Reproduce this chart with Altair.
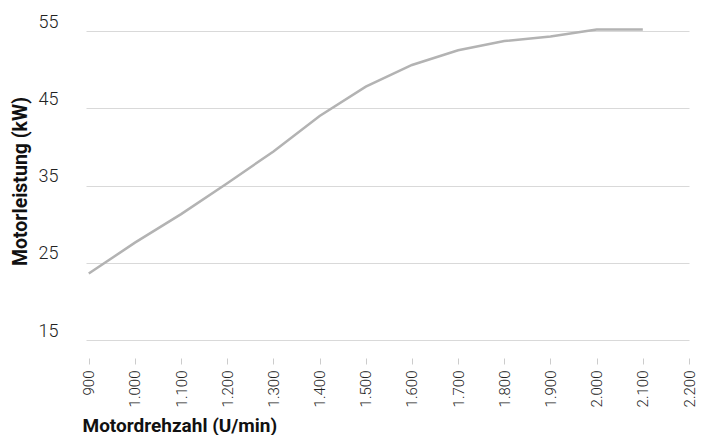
import altair as alt
import pandas as pd

drehzahl = [900, 1000, 1100, 1200, 1300, 1400, 1500, 1600, 1700, 1800, 1900, 2000, 2100]
leistung = [23.6, 27.6, 31.3, 35.3, 39.4, 44.0, 47.8, 50.6, 52.5, 53.7, 54.3, 55.2, 55.2]
x_ticks = [900, 1000, 1100, 1200, 1300, 1400, 1500, 1600, 1700, 1800, 1900, 2000, 2100, 2200]
y_ticks = [15, 25, 35, 45, 55]

df = pd.DataFrame({"x": drehzahl, "y": leistung})

FONT = "Roboto"

chart = alt.Chart(df).mark_line(color="#b3b3b3", strokeWidth=2.5).encode(
    x=alt.X(
        "x:Q",
        scale=alt.Scale(domain=[894, 2200], nice=False, zero=False),
        axis=alt.Axis(
            title="Motordrehzahl (U/min)",
            values=x_ticks,
            labelExpr="replace(format(datum.value, ','), ',', '.')",
            labelAngle=-90,
            labelFontSize=15,
            labelFont=FONT,
            labelFontWeight=300,
            labelColor="#222222",
            labelPadding=6,
            grid=False,
            domain=False,
            ticks=True,
            tickSize=6,
            tickColor="#cccccc",
            tickWidth=1,
            offset=18,
            titleFont=FONT,
            titleFontSize=19,
            titleFontWeight="bold",
            titleColor="#111111",
            titleAnchor="start",
            titleAlign="left",
            titleBaseline="alphabetic",
            titleX=-4,
            titleY=73,
            labelOverlap=False,
        ),
    ),
    y=alt.Y(
        "y:Q",
        scale=alt.Scale(domain=[15, 55], nice=False, zero=False),
        axis=alt.Axis(
            title="Motorleistung (kW)",
            values=y_ticks,
            labelFontSize=18,
            labelFont=FONT,
            labelFontWeight=300,
            labelColor="#222222",
            labelBaseline="alphabetic",
            labelOffset=-4,
            labelPadding=28,
            domain=False,
            ticks=False,
            grid=True,
            gridColor="#d9d9d9",
            gridWidth=1.2,
            titleFont=FONT,
            titleFontSize=19.5,
            titleFontWeight="bold",
            titleColor="#111111",
            titleBaseline="alphabetic",
            titleX=-60,
            titleY=150,
            titleAngle=-90,
        ),
    ),
).properties(
    width=603,
    height=309,
    autosize=alt.AutoSizeParams(type="none"),
    padding={"left": 78, "top": 23, "right": 9, "bottom": 95},
).configure_view(stroke=None)

chart.save("out.html", embed_options={"renderer": "svg", "actions": False})
